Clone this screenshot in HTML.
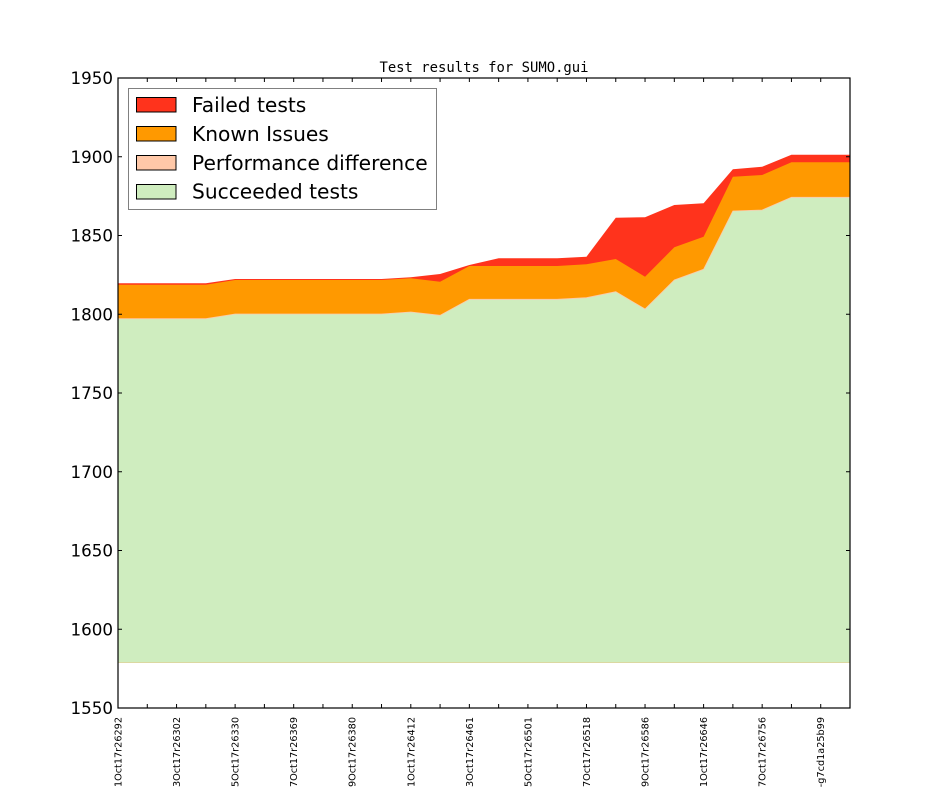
<!DOCTYPE html>
<html><head><meta charset="utf-8"><style>
html,body{margin:0;padding:0;background:#fff;width:944px;height:787px;overflow:hidden;}
svg{display:block;overflow:hidden;}
text{font-family:"DejaVu Sans","Liberation Sans",sans-serif;}
</style></head><body>
<svg width="944" height="787" viewBox="0 0 944 787" xmlns="http://www.w3.org/2000/svg">
<rect width="944" height="787" fill="#fff"/>
<!-- fills -->
<polygon fill="#ff331c" points="118,283.3 147.28,283.3 176.56,283.3 205.84,283.3 235.12,279 264.4,279 293.68,279 322.96,279 352.24,279 381.52,279 410.8,277.3 440.08,274 469.36,265 498.64,258.3 527.92,258.3 557.2,258.3 586.48,256.7 615.76,217.7 645.04,217.3 674.32,205 703.6,203.3 732.88,169.3 762.16,166.7 791.44,154.7 820.72,154.7 850,154.7 850,662.7 118,662.7"/>
<polygon fill="#ff9900" points="118,284.7 147.28,284.7 176.56,284.7 205.84,284.7 235.12,280 264.4,280 293.68,280 322.96,280 352.24,280 381.52,280 410.8,278.3 440.08,281.7 469.36,266 498.64,266 527.92,266 557.2,266 586.48,264.3 615.76,259 645.04,276.7 674.32,247.3 703.6,236.7 732.88,176.7 762.16,175 791.44,162.3 820.72,162.3 850,162.3 850,662.7 118,662.7"/>
<polygon fill="#cfedbf" points="118,318.7 147.28,318.7 176.56,318.7 205.84,318.7 235.12,314 264.4,314 293.68,314 322.96,314 352.24,314 381.52,314 410.8,312 440.08,315.3 469.36,299.3 498.64,299.3 527.92,299.3 557.2,299.3 586.48,297.7 615.76,291.7 645.04,309 674.32,280 703.6,269.3 732.88,211 762.16,210 791.44,197.3 820.72,197.3 850,197.3 850,662.7 118,662.7"/>
<polyline fill="none" stroke="#ffc8a8" stroke-width="0.8" points="118,318.7 147.28,318.7 176.56,318.7 205.84,318.7 235.12,314 264.4,314 293.68,314 322.96,314 352.24,314 381.52,314 410.8,312 440.08,315.3 469.36,299.3 498.64,299.3 527.92,299.3 557.2,299.3 586.48,297.7 615.76,291.7 645.04,309 674.32,280 703.6,269.3 732.88,211 762.16,210 791.44,197.3 820.72,197.3 850,197.3"/>

<!-- ticks -->
<g stroke="#000" stroke-width="1">
<path d="M147.28,708v-4M176.56,708v-4M205.84,708v-4M235.12,708v-4M264.4,708v-4M293.68,708v-4M322.96,708v-4M352.24,708v-4M381.52,708v-4M410.8,708v-4M440.08,708v-4M469.36,708v-4M498.64,708v-4M527.92,708v-4M557.2,708v-4M586.48,708v-4M615.76,708v-4M645.04,708v-4M674.32,708v-4M703.6,708v-4M732.88,708v-4M762.16,708v-4M791.44,708v-4M820.72,708v-4"/>
<path d="M147.28,78v4M176.56,78v4M205.84,78v4M235.12,78v4M264.4,78v4M293.68,78v4M322.96,78v4M352.24,78v4M381.52,78v4M410.8,78v4M440.08,78v4M469.36,78v4M498.64,78v4M527.92,78v4M557.2,78v4M586.48,78v4M615.76,78v4M645.04,78v4M674.32,78v4M703.6,78v4M732.88,78v4M762.16,78v4M791.44,78v4M820.72,78v4"/>
<path d="M118,156.75h4M118,235.5h4M118,314.25h4M118,393h4M118,471.75h4M118,550.5h4M118,629.25h4"/>
<path d="M850,156.75h-4M850,235.5h-4M850,314.25h-4M850,393h-4M850,471.75h-4M850,550.5h-4M850,629.25h-4"/>
</g>
<!-- axes frame -->
<rect x="118" y="78" width="732" height="630" fill="none" stroke="#000" stroke-width="1.2"/>

<!-- y labels -->
<g font-size="16.7" text-anchor="end" fill="#000">
<text x="113" y="84">1950</text>
<text x="113" y="162.75">1900</text>
<text x="113" y="241.5">1850</text>
<text x="113" y="320.25">1800</text>
<text x="113" y="399">1750</text>
<text x="113" y="477.75">1700</text>
<text x="113" y="556.5">1650</text>
<text x="113" y="635.25">1600</text>
<text x="113" y="714">1550</text>
</g>

<!-- x labels -->
<g font-size="9.7" text-anchor="end" fill="#000">
<text transform="translate(121.5,717) rotate(-90)">01Oct17r26292</text>
<text transform="translate(180.06,717) rotate(-90)">03Oct17r26302</text>
<text transform="translate(238.62,717) rotate(-90)">05Oct17r26330</text>
<text transform="translate(297.18,717) rotate(-90)">07Oct17r26369</text>
<text transform="translate(355.74,717) rotate(-90)">09Oct17r26380</text>
<text transform="translate(414.3,717) rotate(-90)">11Oct17r26412</text>
<text transform="translate(472.86,717) rotate(-90)">13Oct17r26461</text>
<text transform="translate(531.42,717) rotate(-90)">15Oct17r26501</text>
<text transform="translate(589.98,717) rotate(-90)">17Oct17r26518</text>
<text transform="translate(648.54,717) rotate(-90)">19Oct17r26586</text>
<text transform="translate(707.1,717) rotate(-90)">21Oct17r26646</text>
<text transform="translate(765.66,717) rotate(-90)">27Oct17r26756</text>
<text transform="translate(824.22,717) rotate(-90)">-g7cd1a25b99</text>
</g>

<!-- title -->
<text x="484" y="72" font-size="13.9" text-anchor="middle" style='font-family:"DejaVu Sans Mono","Liberation Mono",monospace'>Test results for SUMO.gui</text>

<!-- legend -->
<rect x="128.5" y="88.5" width="308" height="121" fill="#fff" stroke="#808080" stroke-width="1"/>
<g stroke="#000" stroke-width="1">
<rect x="136.5" y="97.5" width="39.5" height="14.5" fill="#ff331c"/>
<rect x="136.5" y="126.5" width="39.5" height="14.5" fill="#ff9900"/>
<rect x="136.5" y="155.5" width="39.5" height="14.5" fill="#ffc8a8"/>
<rect x="136.5" y="184.5" width="39.5" height="14.5" fill="#cfedbf"/>
</g>
<g font-size="20.2" fill="#000">
<text x="192" y="111.9">Failed tests</text>
<text x="192" y="140.9">Known Issues</text>
<text x="192" y="169.9">Performance difference</text>
<text x="192" y="198.7">Succeeded tests</text>
</g>
</svg>
</body></html>
